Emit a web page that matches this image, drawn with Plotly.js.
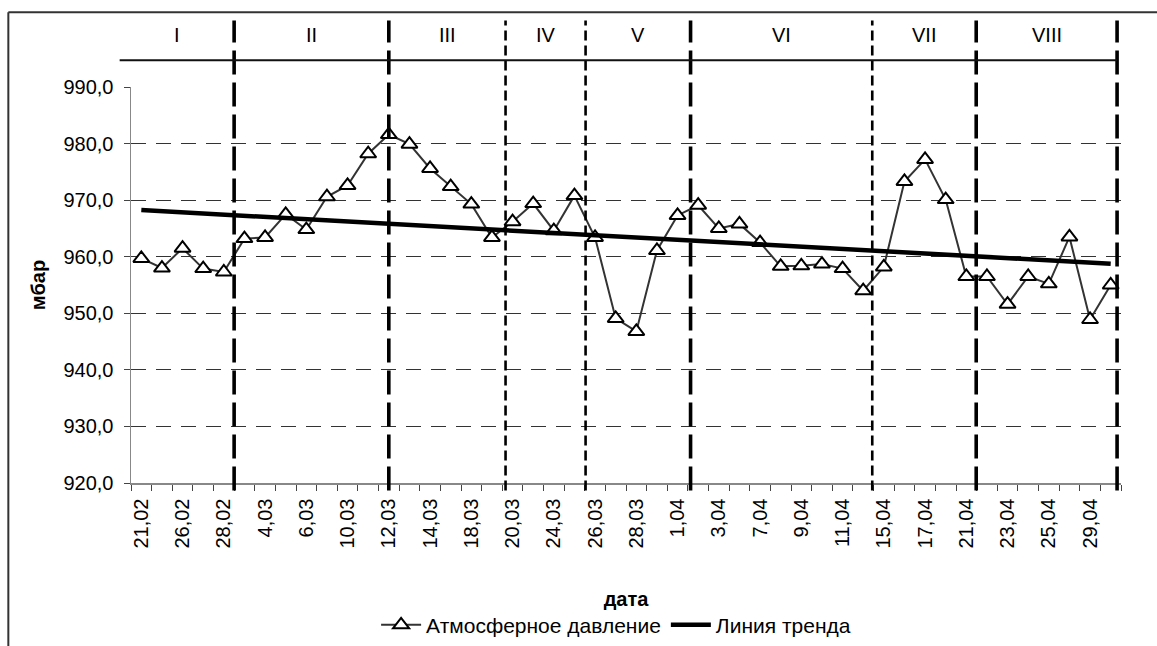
<!DOCTYPE html>
<html><head><meta charset="utf-8">
<script src="https://cdn.plot.ly/plotly-3.0.1.min.js"></script>
<style>html,body{margin:0;padding:0;background:#fff}#chart{width:1157px;height:646px}</style>
</head><body><div id="chart"></div>
<script>
// ---- data ----
const dates = ['21,02','24,02','26,02','27,02','28,02','1,03','4,03','5,03','6,03','8,03',
  '10,03','11,03','12,03','13,03','14,03','16,03','18,03','19,03','20,03','22,03',
  '24,03','25,03','26,03','27,03','28,03','30,03','1,04','2,04','3,04','5,04',
  '7,04','8,04','9,04','10,04','11,04','13,04','15,04','16,04','17,04','19,04',
  '21,04','22,04','23,04','24,04','25,04','27,04','29,04','30,04'];
const pressure = [959.7,958.0,961.5,957.9,957.3,963.2,963.4,967.5,964.8,970.6,
  972.6,978.2,981.6,979.9,975.6,972.4,969.3,963.4,966.2,969.4,
  964.6,970.8,963.4,949.1,946.8,961.1,967.3,969.1,965.0,965.8,
  962.5,958.3,958.4,958.7,957.9,954.0,958.2,973.3,977.2,970.1,
  956.5,956.5,951.6,956.5,955.2,963.5,948.9,955.0];
const periods = ['I','II','III','IV','V','VI','VII','VIII'];
const seriesName = 'Атмосферное давление';
const trendName = 'Линия тренда';
const xTitle = 'дата';
const yTitle = 'мбар';

// ---- linear trend (least squares) ----
const n = pressure.length;
let sx = 0, sy = 0, sxx = 0, sxy = 0;
for (let i = 0; i < n; i++) { sx += i; sy += pressure[i]; sxx += i * i; sxy += i * pressure[i]; }
const slope = (n * sxy - sx * sy) / (n * sxx - sx * sx);
const intercept = (sy - slope * sx) / n;
const trendX = [dates[0], dates[n - 1]];
const trendY = [intercept, intercept + slope * (n - 1)];

// ---- layout helpers ----
const FONT = 'Liberation Sans, Arial, sans-serif';
const toPaper = i => (i + 0.5) / n;
const bounds = [-1.05, 4.5, 12, 17.66, 21.54, 26.63, 35.44, 40.48, 47.31];
const thickLine = [true, true, false, false, true, false, true, true];

const shapes = [];
for (let k = 1; k < bounds.length; k++) {
  const thick = thickLine[k - 1];
  shapes.push({type: 'line', xref: 'x', yref: 'paper', x0: bounds[k], x1: bounds[k],
    y0: -0.019, y1: 1.168,
    line: {color: '#000', width: thick ? 3.6 : 2.6, dash: thick ? '24px,8px' : '10px,5px'}});
}
shapes.push({type: 'line', xref: 'paper', yref: 'paper', x0: toPaper(bounds[0]), x1: toPaper(bounds[bounds.length - 1]),
  y0: 1.0674, y1: 1.0674, line: {color: '#111', width: 2}});
// chart-area frame (left and top edges)
shapes.push({type: 'line', xref: 'paper', yref: 'paper', x0: -0.1239, x1: -0.1239, y0: 1.1886, y1: -0.6, line: {color: '#333', width: 2}});
shapes.push({type: 'line', xref: 'paper', yref: 'paper', x0: -0.1239, x1: 1.2, y0: 1.1886, y1: 1.1886, line: {color: '#333', width: 2}});

const annotations = periods.map((p, k) => ({
  text: p, xref: 'paper', yref: 'paper', x: toPaper((bounds[k] + bounds[k + 1]) / 2), y: 1.1313,
  showarrow: false, xanchor: 'center', yanchor: 'middle', font: {family: FONT, size: 20, color: '#000'}
}));

const data = [
  {x: dates, y: pressure, type: 'scatter', mode: 'lines+markers', name: seriesName,
   line: {color: '#333', width: 2},
   marker: {symbol: 'triangle-up', size: 14, color: '#fff', line: {color: '#000', width: 2}}},
  {x: trendX, y: trendY, type: 'scatter', mode: 'lines', name: trendName,
   line: {color: '#000', width: 4.5}}
];

const layout = {
  width: 1157, height: 646,
  margin: {l: 131, r: 36, t: 87, b: 163, autoexpand: false},
  paper_bgcolor: '#fff', plot_bgcolor: '#fff',
  separators: ', ',
  font: {family: FONT, size: 20, color: '#000'},
  showlegend: true,
  legend: {orientation: 'h', x: 0.49, xanchor: 'center', y: -0.359, yanchor: 'middle',
    font: {family: FONT, size: 21, color: '#000'}, bgcolor: 'rgba(0,0,0,0)', itemwidth: 40},
  xaxis: {type: 'category', categoryorder: 'array', categoryarray: dates, range: [-0.5, n - 0.5],
    tickmode: 'array', tickvals: dates, ticktext: dates.map((d, i) => i % 2 === 0 ? d : ''),
    tickson: 'boundaries', ticks: 'outside', ticklen: 6, tickwidth: 1, tickcolor: '#444',
    tickangle: -90, ticklabelstandoff: 6, tickfont: {family: FONT, size: 20, color: '#000'},
    showline: true, linecolor: '#888', linewidth: 1.5, showgrid: false, zeroline: false,
    automargin: false,
    title: {text: '<b>' + xTitle + '</b>', font: {family: FONT, size: 20, color: '#000'}, standoff: 44}},
  yaxis: {range: [920, 990], dtick: 10, tick0: 920, tickformat: '.1f',
    ticks: 'outside', ticklen: 6, tickwidth: 1, tickcolor: '#444', ticklabelstandoff: 6,
    tickfont: {family: FONT, size: 20, color: '#000'},
    showline: true, linecolor: '#888', linewidth: 1.5,
    showgrid: true, gridcolor: '#333', gridwidth: 1, griddash: '15px,10px', zeroline: false,
    automargin: false,
    title: {text: '<b>' + yTitle + '</b>', font: {family: FONT, size: 20, color: '#000'}, standoff: 12}},
  shapes: shapes,
  annotations: annotations
};

Plotly.newPlot('chart', data, layout, {displayModeBar: false, staticPlot: true});
</script>
</body></html>
